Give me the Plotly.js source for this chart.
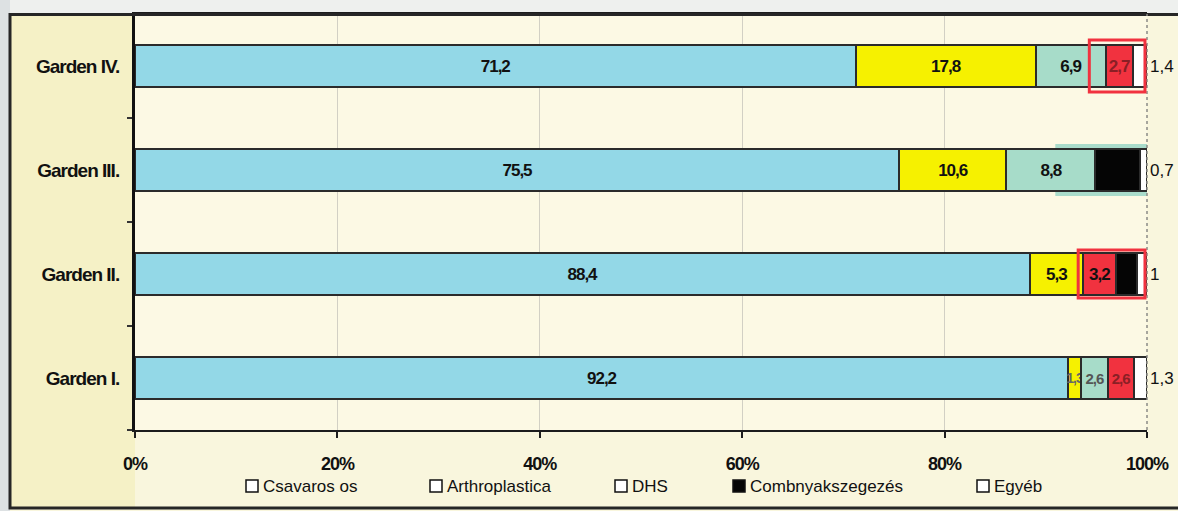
<!DOCTYPE html>
<html>
<head>
<meta charset="utf-8">
<script src="https://cdn.plot.ly/plotly-3.0.1.min.js"></script>
<style>
  html, body { margin: 0; padding: 0; background: #f9f6dd; }
  #chart { width: 1178px; height: 511px; }
  /* tighter, condensed-looking lettering on axis and bar labels */
  #chart .xtick text, #chart .ytick text, #chart .bartext { letter-spacing: -1px; }
</style>
</head>
<body>
<div id="chart"></div>
<script>
// Distribution of treatment types per Garden class (percent of cases)
const gardens   = ['Garden I.', 'Garden II.', 'Garden III.', 'Garden IV.'];
const csavaros  = [92.2, 88.4, 75.5, 71.2];
const arthro    = [1.3, 5.3, 10.6, 17.8];
const dhs       = [2.6, 3.2, 8.8, 6.9];
const combny    = [2.6, 2.1, 4.4, 2.7];
const egyeb     = [1.3, 1.0, 0.7, 1.4];
const seriesNames = ['Csavaros os', 'Arthroplastica', 'DHS', 'Combnyakszegezés', 'Egyéb'];
const xTicks    = [0, 20, 40, 60, 80, 100];

// --- styling ---
const W = 1178, H = 511;
const M = { l: 135, r: 31, t: 14, b: 81 };
const PW = W - M.l - M.r, PH = H - M.t - M.b;
const px2x = p => (p - M.l) / PW;
const px2y = p => (H - M.b - p) / PH;

const sans = '"Liberation Sans", Arial, sans-serif';
const outline = { color: '#2b2b2b', width: 2 };
const barWidth = 0.4;

const blue = '#93d8e7', yellow = '#f6f100', mint = '#a7dcc9', red = '#f1323f', black = '#050505', white = '#ffffff';
const dhsColors    = [mint, red, mint, mint];
const combnyColors = [red, black, black, red];
const combnyShown  = [true, false, false, true];

const fmt = v => String(v).replace('.', ',');

function barTrace(name, values, color, text, textColor, textSize) {
  return {
    type: 'bar', orientation: 'h', name: name,
    y: gardens, x: values, width: barWidth,
    marker: { color: color, line: outline },
    text: text, textposition: text ? 'inside' : 'none', textangle: 0,
    insidetextanchor: 'middle', constraintext: 'none',
    textfont: { family: sans, size: textSize || 17, color: textColor || '#111', weight: 'bold' },
    hoverinfo: 'x+y', showlegend: false, cliponaxis: false
  };
}

const traces = [
  barTrace(seriesNames[0], csavaros, blue, csavaros.map(fmt)),
  barTrace(seriesNames[1], arthro, yellow, arthro.map(fmt), ['#666', '#111', '#111', '#111'], [14, 17, 17, 17]),
  barTrace(seriesNames[2], dhs, dhsColors, dhs.map(fmt), ['#555', '#111', '#111', '#111'], [15, 17, 17, 17]),
  barTrace(seriesNames[3], combny, combnyColors,
           combny.map((v, i) => combnyShown[i] ? fmt(v) : ''), '#8a1f25', [15, 17, 17, 17]),
  barTrace(seriesNames[4], egyeb, white, null)
];

// "Egyéb" values written just right of the 100% line
const annotations = gardens.map((g, i) => ({
  x: 100, y: g, xref: 'x', yref: 'y', xanchor: 'left', xshift: 1,
  text: fmt(egyeb[i]), showarrow: false,
  font: { family: sans, size: 17, color: '#111' }
}));

// legend row drawn as boxes + labels
const legendPx = [246, 430, 615, 733, 977];
const legendY = 486;
const legendFill = [white, white, white, black, white];
const shapes = [
  // grey strip at the far left and light band above the frame
  { type: 'rect', xref: 'paper', yref: 'paper', x0: px2x(-5), x1: px2x(10), y0: px2y(520), y1: px2y(-5),
    fillcolor: '#dde1e3', line: { width: 0 }, layer: 'below' },
  { type: 'rect', xref: 'paper', yref: 'paper', x0: px2x(10), x1: px2x(1185), y0: px2y(14), y1: px2y(-5),
    fillcolor: '#eef0ee', line: { width: 0 }, layer: 'below' },
  // label panel
  { type: 'rect', xref: 'paper', yref: 'paper', x0: px2x(10), x1: 0, y0: px2y(508), y1: 1,
    fillcolor: '#f5f1c6', line: { width: 0 }, layer: 'below' },
  // outer frame
  { type: 'rect', xref: 'paper', yref: 'paper', x0: px2x(10), x1: px2x(1190), y0: px2y(508), y1: px2y(14.5),
    fillcolor: 'rgba(0,0,0,0)', line: { color: '#262626', width: 3 } },
  // dashed right edge of the plot
  { type: 'line', xref: 'paper', yref: 'paper', x0: 1, x1: 1, y0: 0, y1: 1,
    line: { color: '#8a8a86', width: 1.5, dash: 'dot' } },
  // soft halo behind the Garden III tail
  { type: 'rect', xref: 'x', yref: 'y', layer: 'below',
    x0: csavaros[2] + arthro[2] + dhs[2] * 0.55, x1: 100.3, y0: 2 - 0.25, y1: 2 + 0.25,
    fillcolor: '#a9dccb', line: { width: 0 } },
  // red highlight boxes on Garden II and Garden IV tails
  { type: 'rect', xref: 'x', yref: 'y',
    x0: csavaros[1] + arthro[1] - 0.5, x1: 99.8, y0: 1 - 0.23, y1: 1 + 0.23,
    fillcolor: 'rgba(0,0,0,0)', line: { color: red, width: 3 } },
  { type: 'rect', xref: 'x', yref: 'y',
    x0: csavaros[3] + arthro[3] + dhs[3] - 1.6, x1: 99.8, y0: 3 - 0.25, y1: 3 + 0.25,
    fillcolor: 'rgba(0,0,0,0)', line: { color: red, width: 3 } }
];

seriesNames.forEach((name, i) => {
  const x0 = legendPx[i];
  shapes.push({
    type: 'rect', xref: 'paper', yref: 'paper',
    x0: px2x(x0), x1: px2x(x0 + 12), y0: px2y(legendY + 6), y1: px2y(legendY - 6),
    fillcolor: legendFill[i], line: { color: '#111', width: 1.5 }
  });
  annotations.push({
    xref: 'paper', yref: 'paper', x: px2x(x0 + 15), y: px2y(legendY),
    xanchor: 'left', yanchor: 'middle', showarrow: false, text: name,
    font: { family: sans, size: 17, color: '#111' }
  });
});

const layout = {
  width: W, height: H,
  margin: M,
  paper_bgcolor: '#f9f6dd',
  plot_bgcolor: '#fcf9e4',
  barmode: 'stack',
  bargap: 0.6,
  showlegend: false,
  font: { family: sans, color: '#111' },
  xaxis: {
    range: [0, 100], tickvals: xTicks, ticktext: xTicks.map(v => v + '%'),
    showgrid: true, gridcolor: '#d2d0c4', gridwidth: 1,
    showline: true, linecolor: '#1c1c1c', linewidth: 2, mirror: true,
    ticks: 'outside', ticklen: 6, tickwidth: 2, tickcolor: '#1c1c1c',
    ticklabelstandoff: 10,
    tickfont: { family: sans, size: 18, color: '#111', weight: 'bold' },
    zeroline: false, fixedrange: true
  },
  yaxis: {
    type: 'category', range: [-0.5, 3.5],
    showgrid: false, showline: true, linecolor: '#111', linewidth: 3,
    ticks: 'outside', tickson: 'boundaries', ticklen: 5, tickwidth: 2, tickcolor: '#333',
    ticklabelstandoff: 9,
    tickfont: { family: sans, size: 19, color: '#111', weight: 'bold' },
    fixedrange: true
  },
  shapes: shapes,
  annotations: annotations
};

Plotly.newPlot('chart', traces, layout, { displayModeBar: false, staticPlot: true });
</script>
</body>
</html>
